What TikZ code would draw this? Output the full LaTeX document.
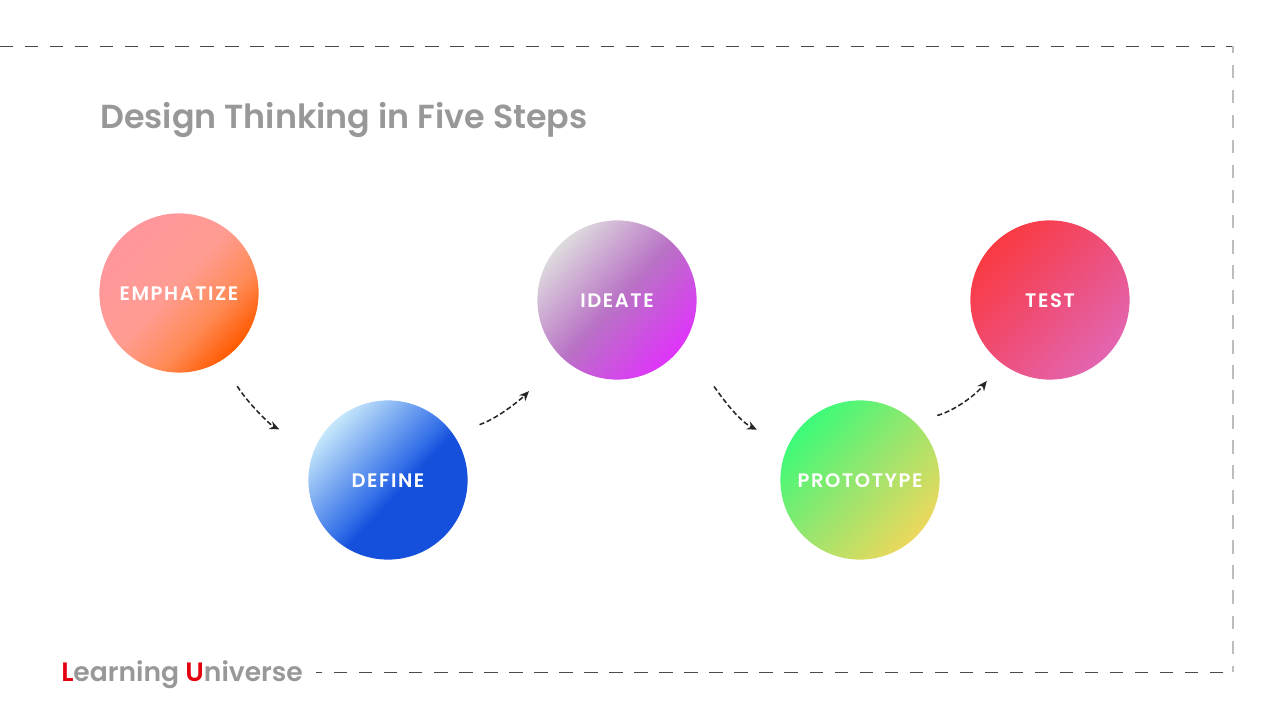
\documentclass[tikz,border=0pt]{standalone}
\usepackage{fontspec}
\usetikzlibrary{arrows.meta}
\setmainfont{Poppins}
\newfontfamily\titlefont{Poppins SemiBold}
\newfontfamily\stepfont[LetterSpace=8]{Poppins SemiBold}
\definecolor{titleGray}{HTML}{989898}
\definecolor{markRed}{HTML}{E5000F}
\definecolor{frameDark}{HTML}{4A4A4A}
\definecolor{frameLight}{HTML}{BDBDBD}
\definecolor{arrowDark}{HTML}{262626}
\pgfdeclareverticalshading{shadeEmphatize}{100bp}{rgb(0bp)=(1,.353,0); rgb(25bp)=(1,.353,0); rgb(37.5bp)=(1,.541,.333); rgb(52.5bp)=(1,.612,.573); rgb(75bp)=(1,.588,.612); rgb(100bp)=(1,.588,.612)}
\pgfdeclareverticalshading{shadeDefine}{100bp}{rgb(0bp)=(.082,.314,.863); rgb(45bp)=(.082,.314,.863); rgb(50bp)=(.204,.439,.91); rgb(75bp)=(.776,.906,.984); rgb(100bp)=(.776,.906,.984)}
\pgfdeclareverticalshading{shadeIdeate}{100bp}{rgb(0bp)=(.875,.204,.98); rgb(25bp)=(.875,.204,.98); rgb(50bp)=(.725,.447,.773); rgb(75bp)=(.867,.855,.867); rgb(100bp)=(.867,.855,.867)}
\pgfdeclareverticalshading{shadePrototype}{100bp}{rgb(0bp)=(.922,.847,.361); rgb(25bp)=(.922,.847,.361); rgb(50bp)=(.596,.898,.431); rgb(75bp)=(.235,.984,.471); rgb(100bp)=(.235,.984,.471)}
\pgfdeclareverticalshading{shadeTest}{100bp}{rgb(0bp)=(.89,.396,.69); rgb(25bp)=(.89,.396,.69); rgb(50bp)=(.933,.306,.471); rgb(75bp)=(.98,.227,.259); rgb(100bp)=(.98,.227,.259)}
\tikzset{
  nodeStep/.style={circle, minimum size=3.98cm, inner sep=0pt, text=white, text height=10.7pt, text depth=0pt,
    font=\stepfont\fontsize{13.9}{16}\selectfont, shade, shading=#1, shading angle=47},
  nodeText/.style={inner sep=0pt, anchor=base west},
  lineFrame/.style={line width=0.7pt, dash pattern=on 9.5pt off 8.3pt},
  lineStep/.style={arrowDark, line width=1.1pt, dash pattern=on 3.6pt off 1.9pt, -{Stealth[length=7pt,width=6pt]}}
}

\begin{document}
\begin{tikzpicture}
  \useasboundingbox (0,0) rectangle (32,18);

  \node[nodeText, text=titleGray, font=\titlefont\fontsize{23.7}{28}\selectfont] (title) at (2.5,14.775) {Design Thinking in Five Steps};

  \node[nodeStep=shadeEmphatize] (emphatize) at (4.475,10.675) {EMPHATIZE};
  \node[nodeStep=shadeDefine] (define) at (9.7,6) {DEFINE};
  \node[nodeStep=shadeIdeate] (ideate) at (15.425,10.5) {IDEATE};
  \node[nodeStep=shadePrototype] (prototype) at (21.5,6) {PROTOTYPE};
  \node[nodeStep=shadeTest] (test) at (26.25,10.5) {TEST};

  \node[nodeText, text=titleGray, font=\titlefont\fontsize{18.9}{22}\selectfont] (brand) at (1.525,0.975) {\textcolor{markRed}{L}earning \textcolor{markRed}{U}niverse};

  \coordinate (frameA) at (0,16.85);
  \coordinate (frameB) at (30.82,16.85);
  \coordinate (frameC) at (30.82,1.2);
  \coordinate (frameD) at (7.9,1.2);

  \draw[lineFrame, frameDark] (frameA) -- (frameB);
  \draw[lineFrame, frameLight, line width=1.1pt, dash phase=4.3pt] (frameB) -- (frameC);
  \draw[lineFrame, frameDark, dash phase=11pt] (frameC) -- (frameD);

  \draw[lineStep, shorten <=0.75cm, shorten >=1cm] (emphatize.-58) to[out=-58, in=155] (define.155);
  \draw[lineStep, shorten <=0.695cm, shorten >=1.17cm] (define.35) to[out=20, in=226] (ideate.226);
  \draw[lineStep, shorten <=1.31cm, shorten >=0.87cm] (ideate.-33) to[out=-55, in=154] (prototype.154);
  \draw[lineStep, shorten <=0.59cm, shorten >=0.57cm] (prototype.47) to[out=15, in=232] (test.232);
\end{tikzpicture}
\end{document}
